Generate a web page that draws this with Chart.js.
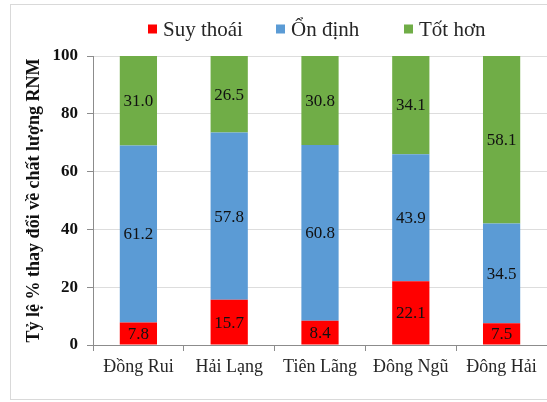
<!DOCTYPE html>
<html>
<head>
<meta charset="utf-8">
<script src="https://cdn.jsdelivr.net/npm/chart.js@4.4.1/dist/chart.umd.min.js"></script>
<style>
  html, body { margin: 0; padding: 0; background: #fff; }
  #wrap { width: 547px; height: 402px; position: relative; }
</style>
</head>
<body>
<div id="wrap"><canvas id="c" width="547" height="402"></canvas></div>
<script>
// Sites surveyed and share (%) of mangrove area by quality change
const sites = ['Đồng Rui', 'Hải Lạng', 'Tiên Lãng', 'Đông Ngũ', 'Đông Hải'];
const suyThoai = [7.8, 15.7, 8.4, 22.1, 7.5];
const onDinh = [61.2, 57.8, 60.8, 43.9, 34.5];
const totHon = [31.0, 26.5, 30.8, 34.1, 58.1];
const yTicks = [0, 20, 40, 60, 80, 100];

const SERIF = '"Liberation Serif", "Times New Roman", serif';

// Outer frame around the whole figure
const framePlugin = {
  id: 'frame',
  beforeDraw(chart) {
    const ctx = chart.ctx;
    ctx.save();
    ctx.fillStyle = '#ffffff';
    ctx.fillRect(0, 0, chart.width, chart.height);
    ctx.strokeStyle = '#d9d9d9';
    ctx.lineWidth = 1;
    ctx.strokeRect(10.5, 4.5, chart.width + 10, chart.height - 7);
    ctx.restore();
  }
};

// Legend row with equally spaced entries above the plot
const legendPlugin = {
  id: 'rowLegend',
  afterDraw(chart) {
    const ctx = chart.ctx;
    const area = chart.chartArea;
    const pitch = 128;
    const startX = (area.left + area.right) / 2 - 172;
    const cy = 29;
    ctx.save();
    ctx.font = '21px ' + SERIF;
    ctx.textBaseline = 'middle';
    ctx.textAlign = 'left';
    chart.data.datasets.forEach((ds, i) => {
      const x = startX + i * pitch;
      ctx.fillStyle = ds.backgroundColor;
      ctx.fillRect(x, cy - 4.5, 9, 9);
      ctx.fillStyle = '#262626';
      ctx.fillText(ds.label, x + 15, cy + 1);
    });
    ctx.restore();
  }
};

// Value written at the middle of each stacked segment
const valueLabels = {
  id: 'valueLabels',
  afterDatasetsDraw(chart) {
    const ctx = chart.ctx;
    ctx.save();
    ctx.font = '17px ' + SERIF;
    ctx.fillStyle = '#111111';
    ctx.textAlign = 'center';
    ctx.textBaseline = 'middle';
    chart.data.datasets.forEach((ds, di) => {
      const meta = chart.getDatasetMeta(di);
      meta.data.forEach((bar, i) => {
        const p = bar.getProps(['x', 'y', 'base'], true);
        const v = ds.data[i];
        ctx.fillText(v.toFixed(1), p.x, (p.y + p.base) / 2 + 1);
      });
    });
    ctx.restore();
  }
};

new Chart(document.getElementById('c'), {
  type: 'bar',
  data: {
    labels: sites,
    datasets: [
      { label: 'Suy thoái', data: suyThoai, backgroundColor: '#ff0000' },
      { label: 'Ổn định', data: onDinh, backgroundColor: '#5b9bd5' },
      { label: 'Tốt hơn', data: totHon, backgroundColor: '#70ad47' }
    ]
  },
  options: {
    responsive: false,
    animation: false,
    devicePixelRatio: 1,
    layout: { padding: { top: 56, left: 0, right: 0, bottom: 0 } },
    datasets: {
      bar: { categoryPercentage: 1, barPercentage: 0.41, borderWidth: 0 }
    },
    plugins: {
      legend: { display: false },
      tooltip: { enabled: false }
    },
    scales: {
      x: {
        stacked: true,
        afterFit(scale) { scale.height = 57; },
        grid: {
          display: true,
          drawOnChartArea: false,
          offset: true,
          tickLength: 6,
          tickColor: '#8c8c8c'
        },
        border: { display: true, color: '#8c8c8c', width: 1 },
        ticks: {
          padding: 5,
          color: '#262626',
          font: { family: SERIF, size: 18 }
        }
      },
      y: {
        stacked: true,
        min: 0,
        max: 100,
        afterFit(scale) { scale.width = 93; },
        afterBuildTicks(scale) { scale.ticks = yTicks.map(v => ({ value: v })); },
        grid: {
          color: '#dddddd',
          tickLength: 6,
          tickColor: '#8c8c8c'
        },
        border: { display: true, color: '#8c8c8c', width: 1 },
        ticks: {
          padding: 9,
          color: '#111111',
          font: { family: SERIF, size: 17, weight: 'bold' }
        },
        title: {
          display: true,
          text: 'Tỷ lệ % thay đổi về chất lượng RNM',
          color: '#111111',
          font: { family: SERIF, size: 18, weight: 'bold' },
          padding: { top: 24, bottom: 0 }
        }
      }
    }
  },
  plugins: [framePlugin, valueLabels, legendPlugin]
});
</script>
</body>
</html>
